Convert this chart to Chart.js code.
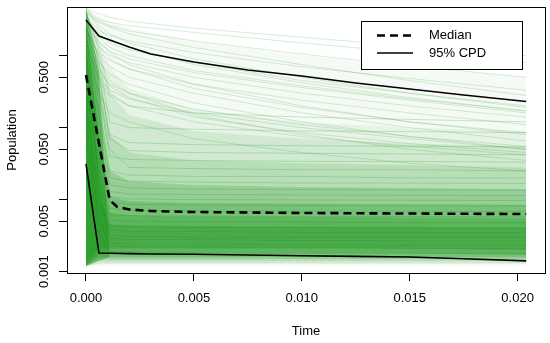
<!DOCTYPE html>
<html>
<head>
<meta charset="utf-8">
<script src="https://cdn.jsdelivr.net/npm/chart.js@4.4.0/dist/chart.umd.min.js"></script>
<style>
  html, body { margin: 0; padding: 0; background: #fff; }
  canvas { display: block; }
</style>
</head>
<body>
<canvas id="myChart" width="550" height="343"></canvas>
<script>
// 95% CPD bounds and median
const cpdTimes = [0, 0.0006, 0.0011, 0.002, 0.003, 0.005, 0.0075, 0.01, 0.0125, 0.015, 0.0175, 0.0204];
const upperCpd = [3.13, 1.87, 1.65, 1.32, 1.05, 0.815, 0.63, 0.52, 0.417, 0.344, 0.284, 0.231];
const lowerCpd = [0.0313, 0.00181, 0.0018, 0.00178, 0.00176, 0.00174, 0.0017, 0.00166, 0.00163, 0.0016, 0.00151, 0.00141];

const medianTimes = [0, 0.0011, 0.00145, 0.002, 0.003, 0.005, 0.01, 0.015, 0.0204];
const medianValues = [0.538, 0.00988, 0.0079, 0.0073, 0.00695, 0.00673, 0.00652, 0.00641, 0.00631];

// simulated trajectories: density bands (low/high edge) + single runs
const simTimes = [0, 0.0006, 0.0011, 0.002, 0.005, 0.01, 0.015, 0.0204];

const bandLow = [
  [0.0012, 0.0012, 0.0012, 0.0012, 0.0012, 0.0012, 0.0012, 0.0012],
  [0.0012, 0.00125, 0.0013, 0.0013, 0.0013, 0.0013, 0.0013, 0.0013],
  [0.0012, 0.0013, 0.0013, 0.0013, 0.0013, 0.0013, 0.0013, 0.0013],
  [0.0012, 0.0014, 0.0014, 0.0014, 0.0014, 0.0014, 0.0014, 0.0014],
  [0.0012, 0.0015, 0.0015, 0.0015, 0.0015, 0.0015, 0.0015, 0.0015],
  [0.0012, 0.0016, 0.0016, 0.0016, 0.0016, 0.0016, 0.0016, 0.0016],
  [0.0012, 0.0018, 0.0018, 0.0018, 0.0018, 0.0018, 0.0018, 0.0017],
  [0.0013, 0.0021, 0.0021, 0.0021, 0.0021, 0.0021, 0.0021, 0.002],
  [0.0012, 0.0014, 0.0016, 0.0016, 0.0016, 0.0016, 0.0016, 0.0016]
];
const bandHigh = [
  [4.6, 3.5, 3.0, 2.4, 1.6, 1.0, 0.7, 0.5],
  [4.4, 1.6, 0.7, 0.35, 0.18, 0.12, 0.1, 0.09],
  [4.0, 1.0, 0.3, 0.15, 0.09, 0.07, 0.06, 0.055],
  [3.5, 0.5, 0.08, 0.045, 0.035, 0.032, 0.03, 0.028],
  [3.0, 0.2, 0.025, 0.018, 0.016, 0.015, 0.0145, 0.014],
  [2.5, 0.08, 0.011, 0.0095, 0.009, 0.0088, 0.0086, 0.0085],
  [1.5, 0.03, 0.0065, 0.006, 0.0058, 0.0057, 0.0056, 0.0055],
  [0.6, 0.012, 0.0045, 0.0044, 0.0043, 0.0042, 0.0042, 0.0041],
  [4.6, 0.6, 0.0016, 0.0016, 0.0016, 0.0016, 0.0016, 0.0016]
];

const flatRuns = [
  [4.2, 0.8, 0.12, 0.1, 0.095, 0.09, 0.088, 0.085],
  [4.0, 1.2, 0.3, 0.2, 0.16, 0.14, 0.13, 0.12],
  [2.6, 0.5, 0.08, 0.062, 0.058, 0.056, 0.055, 0.054],
  [3.8, 0.6, 0.07, 0.048, 0.045, 0.044, 0.043, 0.042],
  [1.9, 0.3, 0.04, 0.036, 0.035, 0.034, 0.034, 0.033],
  [2.9, 0.35, 0.05, 0.028, 0.027, 0.026, 0.026, 0.025],
  [3.2, 0.22, 0.025, 0.022, 0.021, 0.021, 0.02, 0.02],
  [1.6, 0.15, 0.02, 0.018, 0.0175, 0.017, 0.017, 0.0168],
  [1.1, 0.09, 0.016, 0.0145, 0.014, 0.0138, 0.0136, 0.0135],
  [0.9, 0.07, 0.013, 0.012, 0.0118, 0.0116, 0.0115, 0.0114],
  [0.7, 0.05, 0.011, 0.0102, 0.01, 0.0099, 0.0098, 0.0097],
  [2.4, 0.06, 0.0092, 0.0086, 0.0084, 0.0083, 0.0082, 0.0082],
  [2.2, 0.04, 0.0075, 0.0071, 0.007, 0.0069, 0.0069, 0.0068],
  [0.35, 0.03, 0.0062, 0.006, 0.0059, 0.0058, 0.0058, 0.0058],
  [0.5, 0.02, 0.0052, 0.005, 0.0049, 0.0049, 0.0048, 0.0048],
  [1.0, 0.018, 0.0043, 0.0042, 0.0041, 0.0041, 0.004, 0.004],
  [0.25, 0.012, 0.0038, 0.0036, 0.0036, 0.0035, 0.0035, 0.0035],
  [0.18, 0.009, 0.0032, 0.0031, 0.003, 0.003, 0.003, 0.003],
  [1.4, 0.015, 0.0029, 0.0028, 0.0028, 0.0027, 0.0027, 0.0027],
  [0.08, 0.005, 0.0025, 0.0024, 0.0024, 0.0024, 0.0023, 0.0023],
  [0.12, 0.006, 0.0023, 0.0022, 0.0022, 0.0022, 0.0021, 0.0021],
  [0.06, 0.0035, 0.0019, 0.0019, 0.0018, 0.0018, 0.0018, 0.0018]
];
const slopeRuns = [
  [4.5, 3.8, 3.4, 3.0, 2.4, 1.8, 1.35, 1.0],
  [4.4, 3.2, 2.9, 2.6, 2.1, 1.5, 1.1, 0.8],
  [4.1, 3.0, 2.6, 2.2, 1.6, 1.05, 0.72, 0.5],
  [3.9, 2.9, 2.5, 2.0, 1.3, 0.75, 0.45, 0.28],
  [3.6, 2.2, 1.9, 1.6, 1.1, 0.7, 0.48, 0.33],
  [3.4, 2.0, 1.5, 1.2, 0.8, 0.45, 0.3, 0.2],
  [4.6, 2.6, 2.0, 1.5, 0.9, 0.5, 0.3, 0.19],
  [3.3, 1.8, 1.3, 1.0, 0.62, 0.38, 0.25, 0.17],
  [4.3, 2.4, 1.7, 1.3, 0.75, 0.42, 0.26, 0.17],
  [3.1, 1.5, 1.15, 0.9, 0.58, 0.36, 0.24, 0.16],
  [2.8, 1.3, 1.0, 0.8, 0.5, 0.3, 0.2, 0.14],
  [2.2, 1.1, 0.85, 0.65, 0.4, 0.24, 0.16, 0.11],
  [3.7, 1.4, 0.9, 0.65, 0.35, 0.19, 0.12, 0.085],
  [4.0, 1.6, 1.1, 0.75, 0.4, 0.2, 0.12, 0.08],
  [2.4, 1.0, 0.7, 0.5, 0.3, 0.16, 0.1, 0.065],
  [1.8, 0.6, 0.4, 0.3, 0.18, 0.11, 0.075, 0.055],
  [2.0, 0.8, 0.55, 0.4, 0.22, 0.12, 0.075, 0.05],
  [1.4, 0.5, 0.33, 0.25, 0.16, 0.1, 0.07, 0.05],
  [2.6, 0.7, 0.38, 0.26, 0.14, 0.085, 0.06, 0.045],
  [1.6, 0.45, 0.28, 0.2, 0.12, 0.075, 0.055, 0.042],
  [3.0, 0.9, 0.45, 0.3, 0.15, 0.08, 0.05, 0.035],
  [1.2, 0.3, 0.16, 0.12, 0.07, 0.045, 0.032, 0.025]
];

const xTicks = [0, 0.005, 0.01, 0.015, 0.02];
const yTicks = [0.001, 0.005, 0.01, 0.05, 0.1, 0.5, 1];
const yTickLabels = { "0.001": "0.001", "0.005": "0.005", "0.05": "0.050", "0.5": "0.500" };
const legendLabels = ["Median", "95% CPD"];

const FONT = "'Liberation Sans', Arial, Helvetica, sans-serif";
const GREEN = "0, 139, 0";
const bandAlpha = [0.04, 0.06, 0.1, 0.12, 0.18, 0.22, 0.22, 0.2, 0.35];

function toPoints(times, values) {
  return times.map((t, i) => ({ x: t, y: values[i] }));
}

let datasets = [];

// density bands, each one is a (low, high) pair filled between
for (let i = 0; i < bandLow.length; i++) {
  datasets.push({
    data: toPoints(simTimes, bandLow[i]),
    borderColor: "transparent",
    borderWidth: 0,
    pointRadius: 0,
    fill: false,
    order: 30,
  });
  datasets.push({
    data: toPoints(simTimes, bandHigh[i]),
    borderColor: "transparent",
    borderWidth: 0,
    pointRadius: 0,
    backgroundColor: `rgba(${GREEN}, ${bandAlpha[i]})`,
    fill: "-1",
    order: 30,
  });
}

flatRuns.forEach((run) => {
  datasets.push({
    data: toPoints(simTimes, run),
    borderColor: `rgba(${GREEN}, 0.2)`,
    borderWidth: 1,
    pointRadius: 0,
    fill: false,
    order: 20,
  });
});
slopeRuns.forEach((run) => {
  datasets.push({
    data: toPoints(simTimes, run),
    borderColor: `rgba(${GREEN}, 0.16)`,
    borderWidth: 1,
    pointRadius: 0,
    fill: false,
    order: 20,
  });
});

datasets.push({
  label: legendLabels[1],
  data: toPoints(cpdTimes, upperCpd),
  borderColor: "#000",
  borderWidth: 1.6,
  pointRadius: 0,
  fill: false,
  order: 0,
});
datasets.push({
  label: legendLabels[1],
  data: toPoints(cpdTimes, lowerCpd),
  borderColor: "#000",
  borderWidth: 1.6,
  pointRadius: 0,
  fill: false,
  order: 0,
});
datasets.push({
  label: legendLabels[0],
  data: toPoints(medianTimes, medianValues),
  borderColor: "#000",
  borderWidth: 2.6,
  borderDash: [8, 5],
  pointRadius: 0,
  fill: false,
  order: 0,
});

// R-style box around plot region + legend box in the top right
const boxAndLegend = {
  id: "boxAndLegend",
  afterDraw(chart) {
    const { ctx, chartArea } = chart;
    ctx.save();
    ctx.strokeStyle = "#000";
    ctx.lineWidth = 1;
    ctx.strokeRect(
      Math.round(chartArea.left) + 0.5,
      Math.round(chartArea.top) + 0.5,
      Math.round(chartArea.right - chartArea.left),
      Math.round(chartArea.bottom - chartArea.top)
    );

    const lx = 361, ly = 21, lw = 161, lh = 48;
    ctx.fillStyle = "#fff";
    ctx.fillRect(lx, ly, lw, lh);
    ctx.strokeRect(lx + 0.5, ly + 0.5, lw, lh);

    ctx.lineWidth = 2.6;
    ctx.setLineDash([8, 5]);
    ctx.beginPath();
    ctx.moveTo(377, 35.5);
    ctx.lineTo(413, 35.5);
    ctx.stroke();
    ctx.setLineDash([]);
    ctx.lineWidth = 1.6;
    ctx.beginPath();
    ctx.moveTo(377, 53);
    ctx.lineTo(413, 53);
    ctx.stroke();

    ctx.fillStyle = "#000";
    ctx.font = `13px ${FONT}`;
    ctx.textBaseline = "middle";
    ctx.textAlign = "left";
    ctx.fillText(legendLabels[0], 429, 35.5);
    ctx.fillText(legendLabels[1], 429, 53.5);
    ctx.restore();
  },
};

Chart.defaults.font.family = FONT;
Chart.defaults.font.size = 13;
Chart.defaults.color = "#000";

new Chart("myChart", {
  type: "line",
  data: { datasets: datasets },
  plugins: [boxAndLegend],
  options: {
    responsive: false,
    animation: false,
    events: [],
    layout: { padding: { top: 7, right: 5, left: 0, bottom: 0 } },
    plugins: {
      legend: { display: false },
      tooltip: { enabled: false },
    },
    elements: { line: { tension: 0 } },
    scales: {
      x: {
        type: "linear",
        min: -0.00088,
        max: 0.02127,
        afterBuildTicks: (scale) => {
          scale.ticks = xTicks.map((v) => ({ value: v }));
        },
        afterFit: (scale) => {
          scale.height = 70;
        },
        ticks: {
          autoSkip: false,
          maxRotation: 0,
          padding: 10,
          callback: (v) => Number(v).toFixed(3),
        },
        grid: {
          display: true,
          drawOnChartArea: false,
          drawTicks: true,
          tickLength: 8,
          color: "#000",
        },
        border: { display: false },
        title: {
          display: true,
          text: "Time",
          font: { size: 13 },
          padding: { top: 0, bottom: 4 },
        },
      },
      y: {
        type: "logarithmic",
        min: 0.000957,
        max: 4.73,
        afterBuildTicks: (scale) => {
          scale.ticks = yTicks.map((v) => ({ value: v }));
        },
        afterFit: (scale) => {
          scale.width = 67;
        },
        ticks: {
          autoSkip: false,
          minRotation: 90,
          maxRotation: 90,
          crossAlign: "center",
          padding: -2,
          callback: (v) => yTickLabels[String(v)] || "",
        },
        grid: {
          display: true,
          drawOnChartArea: false,
          drawTicks: true,
          tickLength: 8,
          color: "#000",
        },
        border: { display: false },
        title: {
          display: true,
          text: "Population",
          font: { size: 13 },
          padding: { top: 4.5, bottom: 0 },
        },
      },
    },
  },
});
</script>
</body>
</html>
